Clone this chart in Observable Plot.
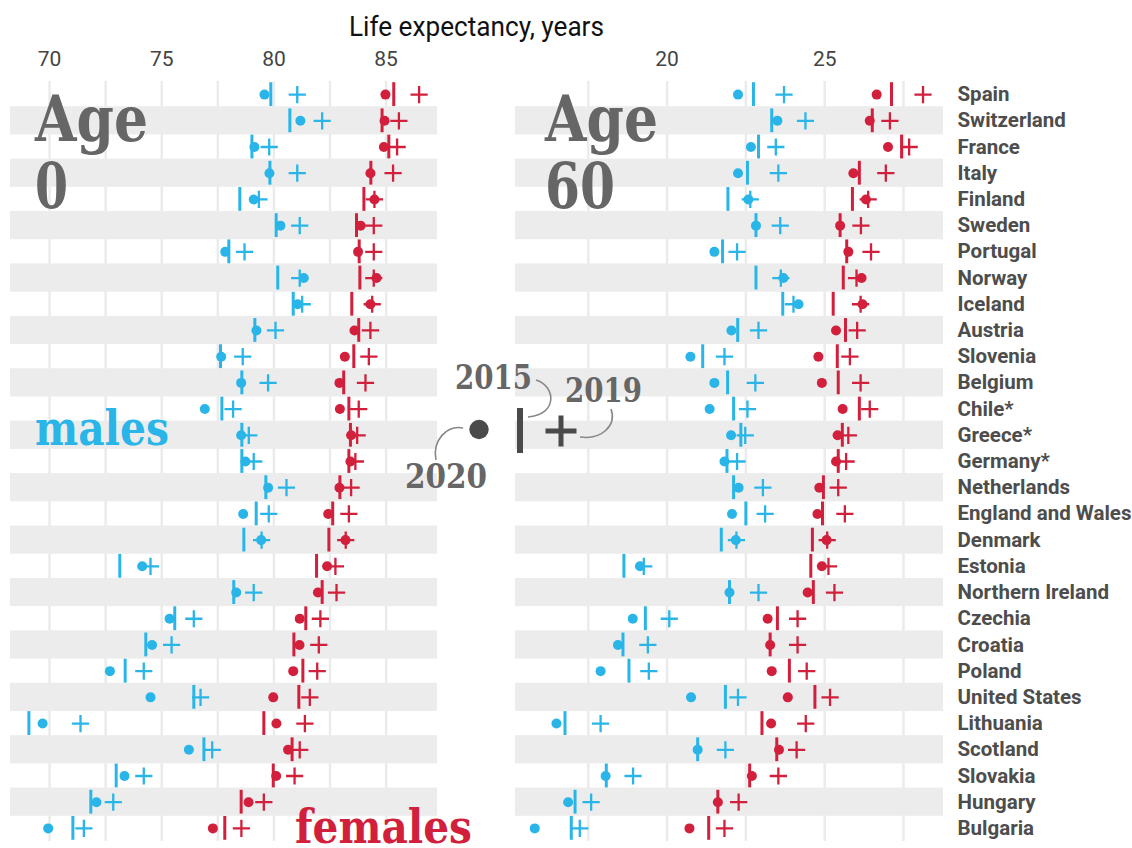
<!DOCTYPE html>
<html><head><meta charset="utf-8">
<script src="https://cdn.jsdelivr.net/npm/d3@7"></script>
<script src="https://cdn.jsdelivr.net/npm/@observablehq/plot@0.6"></script>
<style>
html,body{margin:0;padding:0;background:#fff;}
#chart{position:relative;width:1132px;height:848px;overflow:hidden;background:#fff;}
#chart svg{position:absolute;left:0;top:0;}
</style></head><body><div id="chart"></div>
<script>
const countries = ["Spain","Switzerland","France","Italy","Finland","Sweden","Portugal","Norway","Iceland","Austria","Slovenia","Belgium","Chile*","Greece*","Germany*","Netherlands","England and Wales","Denmark","Estonia","Northern Ireland","Czechia","Croatia","Poland","United States","Lithuania","Scotland","Slovakia","Hungary","Bulgaria"];

const age0Ticks = [70, 75, 80, 85];
const age60Ticks = [20, 25];
const age0Grid = [70, 72.5, 75, 77.5, 80, 82.5, 85];
const age60Grid = [17.5, 20, 22.5, 25, 27.5];

// Age 0, males
const m0_2020 = [79.58,81.18,79.13,79.80,79.10,80.29,77.83,81.33,81.06,79.22,77.65,78.54,76.92,78.54,78.73,79.74,78.63,79.43,74.13,78.32,75.35,74.57,72.69,74.50,69.69,76.21,73.34,72.09,69.94];
const m0_2015 = [79.86,80.71,79.02,79.82,78.48,80.10,77.99,80.17,80.86,79.15,77.62,78.57,77.68,78.57,78.57,79.64,79.21,78.66,73.13,78.21,75.58,74.29,73.37,76.43,69.08,76.88,72.97,71.84,71.04];
const m0_2019 = [81.04,82.15,79.79,81.04,79.33,81.15,78.69,81.15,81.26,80.07,78.61,79.74,78.18,78.88,79.10,80.56,79.77,79.45,74.50,79.10,76.43,75.44,74.20,76.73,71.38,77.25,74.20,72.84,71.53];
// Age 0, females
const f0_2020 = [84.97,84.93,84.90,84.30,84.48,83.86,83.75,84.57,84.30,83.59,83.16,82.92,82.94,83.44,83.41,82.92,82.42,83.19,82.37,81.96,81.15,81.14,80.86,79.97,80.11,80.63,80.10,78.87,77.28];
const f0_2015 = [85.34,84.82,85.12,84.32,84.01,83.68,83.80,83.83,83.47,83.78,83.56,83.11,83.34,83.41,83.34,82.94,82.62,82.45,81.90,82.15,81.42,80.89,81.29,81.11,79.55,80.81,79.97,78.54,77.81];
const f0_2019 = [86.47,85.57,85.49,85.31,84.48,84.45,84.45,84.45,84.38,84.30,84.23,84.08,83.78,83.71,83.63,83.44,83.34,83.20,82.74,82.79,82.07,82.00,81.93,81.60,81.38,81.15,80.92,79.55,78.55];
// Age 60, males
const m60_2020 = [22.25,23.50,22.66,22.25,22.58,22.82,21.50,23.69,24.17,22.04,20.74,21.50,21.35,22.03,21.82,22.27,22.06,22.18,19.14,21.98,18.91,18.44,17.89,20.76,16.49,20.97,18.05,16.86,15.80];
const m60_2015 = [22.74,23.32,22.90,22.55,21.93,22.82,21.76,22.82,23.67,22.24,21.13,21.92,22.11,22.34,21.90,22.11,22.50,21.72,18.63,21.98,19.31,18.60,18.79,21.85,16.76,20.97,18.07,17.08,16.96];
const m60_2019 = [23.71,24.39,23.45,23.53,22.64,23.59,22.22,23.61,24.01,22.90,21.82,22.80,22.55,22.48,22.22,23.04,23.11,22.20,19.26,22.90,20.07,19.39,19.42,22.25,17.89,21.85,18.92,17.59,17.23];
// Age 60, females
const f60_2020 = [26.65,26.43,27.01,25.91,26.31,25.49,25.75,26.17,26.20,25.36,24.80,24.91,25.57,25.41,25.36,24.83,24.77,25.06,24.91,24.46,23.19,23.27,23.32,23.83,23.30,23.55,22.69,21.61,20.71];
const f60_2015 = [27.12,26.51,27.44,26.10,25.88,25.49,25.70,25.59,25.27,25.66,25.40,25.43,26.10,25.56,25.43,24.96,24.93,24.61,24.56,24.64,23.50,23.27,23.88,24.69,23.01,23.48,22.62,21.61,21.32];
const f60_2019 = [28.12,27.07,27.68,26.94,26.38,26.15,26.47,26.01,26.14,26.03,25.80,26.14,26.43,25.75,25.68,25.43,25.64,25.08,25.12,25.31,24.14,24.14,24.43,25.17,24.40,24.11,23.53,22.27,21.82];

const BLUE = "#29b5e8", RED = "#d11f3c";
const stripes = countries.filter((d, i) => i % 2 === 1);

function build(sets) {
  const out = [];
  for (const [sex, year, arr] of sets) arr.forEach((v, i) => out.push({country: countries[i], sex, year, value: v}));
  return out;
}

function panel(data, domain, ticks, grid, marginLeft, marginRight, showY) {
  const col = d => d.sex === "m" ? BLUE : RED;
  const marks = [
    Plot.ruleX(grid, {stroke: "#ebebeb", strokeWidth: 2.5}),
    Plot.barX(stripes, {y: d => d, x1: domain[0], x2: domain[1], fill: "#ececec", insetTop: -1, insetBottom: -1}),
    Plot.axisX(ticks, {anchor: "top", tickSize: 0, tickPadding: 16, fontSize: 21, fill: "#444", label: null}),
    Plot.tickX(data.filter(d => d.year === "2015"), {x: "value", y: "country", stroke: col, strokeWidth: 3, insetTop: 1.2, insetBottom: 1.2}),
    Plot.dot(data.filter(d => d.year === "2019"), {x: "value", y: "country", symbol: "plus", r: 5.6, stroke: col, strokeWidth: 2.3}),
    Plot.dot(data.filter(d => d.year === "2020"), {x: "value", y: "country", r: 5, fill: col, stroke: "none"})
  ];
  if (showY) marks.push(Plot.axisY({anchor: "right", tickSize: 0, tickPadding: 14, fontSize: 20.5, fontWeight: "bold", fill: "#4d4d4d", label: null}));
  return Plot.plot({
    width: 1132, height: 848, marginTop: 81, marginBottom: 7, marginLeft, marginRight,
    x: {domain, axis: null},
    y: {domain: countries, axis: null, padding: 0, round: false},
    style: {fontFamily: "Roboto, sans-serif", background: "transparent", overflow: "visible"},
    marks
  });
}

const data0 = build([["m","2020",m0_2020],["m","2015",m0_2015],["m","2019",m0_2019],["f","2020",f0_2020],["f","2015",f0_2015],["f","2019",f0_2019]]);
const data60 = build([["m","2020",m60_2020],["m","2015",m60_2015],["m","2019",m60_2019],["f","2020",f60_2020],["f","2015",f60_2015],["f","2019",f60_2019]]);

const chart = document.getElementById("chart");
chart.append(panel(data0, [68.26, 87.29], age0Ticks, age0Grid, 10, 695, false));
chart.append(panel(data60, [15.19, 28.77], age60Ticks, age60Grid, 515, 189, true));

// annotations overlay
const svg = d3.select(chart).append("svg").attr("width", 1132).attr("height", 848)
  .style("overflow", "visible");
const slab = "'DejaVu Serif', serif";
function label(t, x, y, size, len, fill) {
  svg.append("text").text(t).attr("x", x).attr("y", y)
    .attr("font-family", slab).attr("font-weight", "bold").attr("font-size", size)
    .attr("textLength", len).attr("lengthAdjust", "spacingAndGlyphs").attr("fill", fill);
}
svg.append("text").text("Life expectancy, years").attr("x", 349).attr("y", 36)
  .attr("font-family", "Roboto, sans-serif").attr("font-size", 27).attr("fill", "#111")
  .attr("textLength", 255).attr("lengthAdjust", "spacingAndGlyphs");
label("Age", 35, 141, 64, 113, "#666");
label("0", 35, 208, 64, 33, "#666");
label("Age", 545, 141, 64, 113, "#666");
label("60", 545, 208, 64, 70, "#666");
label("males", 35, 445, 49, 134, BLUE);
label("females", 295, 843, 46, 177, RED);
label("2015", 455, 389, 33, 77, "#666");
label("2019", 565, 402, 33, 77, "#666");
label("2020", 405, 488, 33, 82, "#666");
const G = "#4a4a4a";
svg.append("circle").attr("cx", 479).attr("cy", 429.5).attr("r", 9.7).attr("fill", G);
svg.append("line").attr("x1", 520).attr("x2", 520).attr("y1", 408).attr("y2", 453).attr("stroke", G).attr("stroke-width", 6);
svg.append("path").attr("d", "M545.5,431H576.5M561,415.5V446.5").attr("stroke", G).attr("stroke-width", 5).attr("fill", "none");
const conn = ["M536,380C556,386 558,415 528,417", "M611,409C617,426 601,440 580,437", "M463,428C447,425 432,440 436,460"];
conn.forEach(d => svg.append("path").attr("d", d).attr("fill", "none").attr("stroke", "#888").attr("stroke-width", 1.6));
</script></body></html>
